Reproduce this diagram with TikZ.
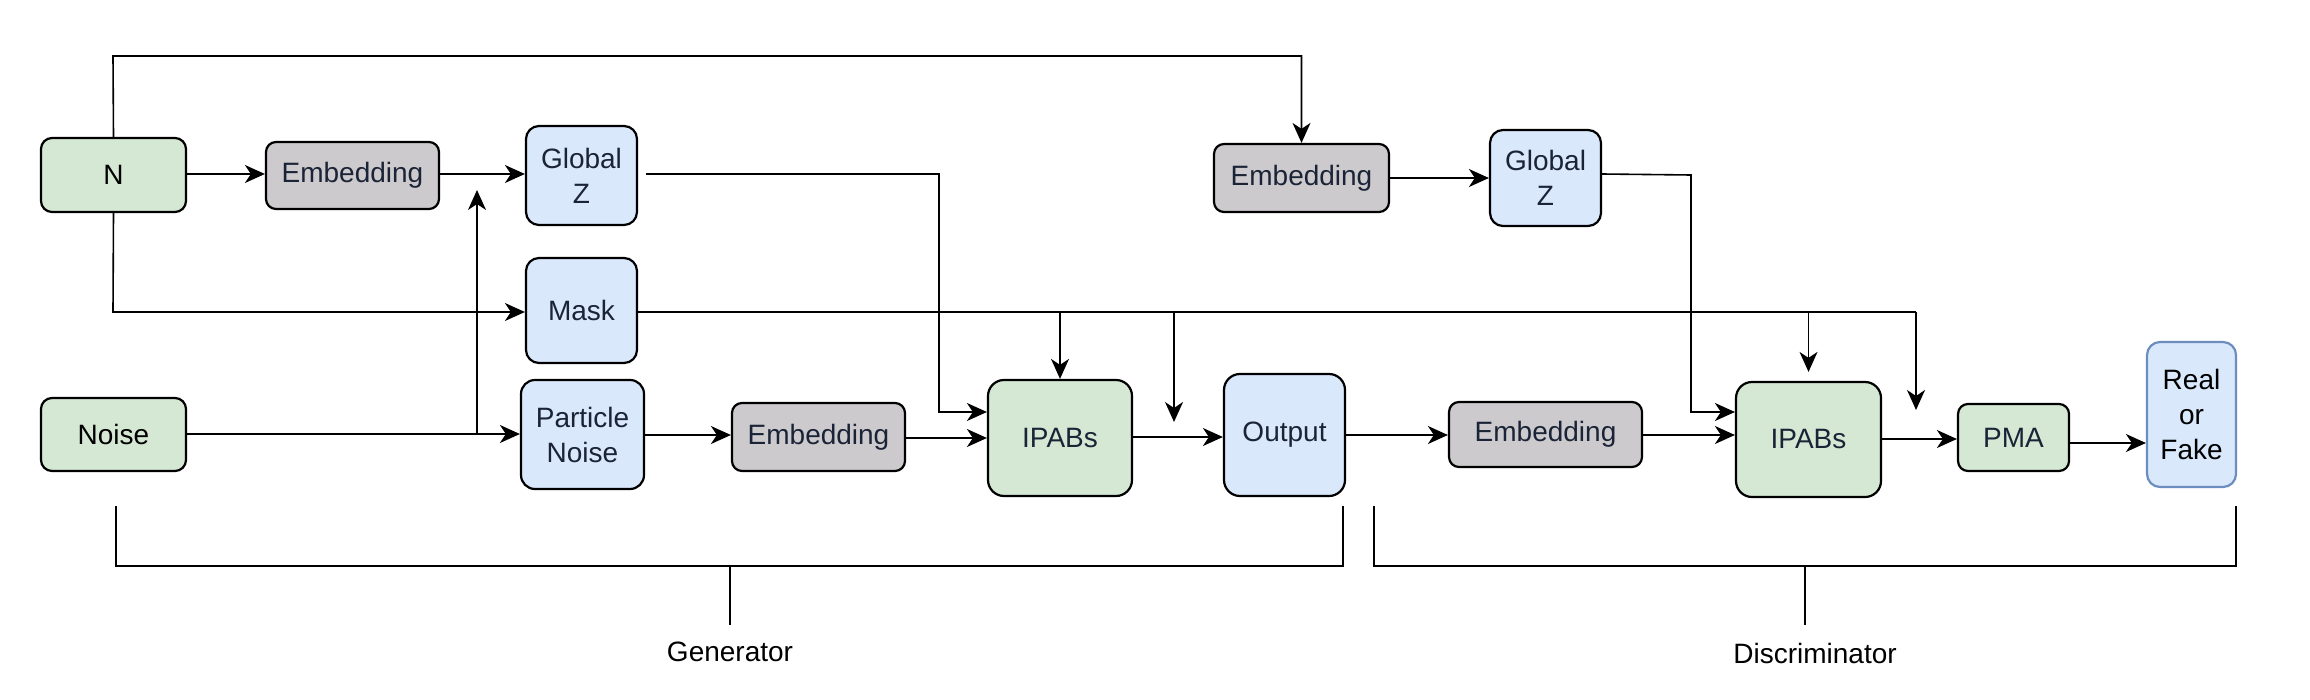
\documentclass[tikz,border=0pt]{standalone}
\usepackage{fontspec}
\setmainfont{Liberation Sans}
\usetikzlibrary{arrows.meta}
\definecolor{gfill}{HTML}{D5E8D4}
\definecolor{bfill}{HTML}{DAE8FC}
\definecolor{efill}{HTML}{CCCACD}
\definecolor{txt}{HTML}{1B2437}
\definecolor{rfline}{HTML}{6C8EBF}
\begin{document}
\begin{tikzpicture}[x=0.5pt,y=-0.5pt,
  >={Stealth[length=10pt,width=9pt,inset=3pt]},
  box/.style={draw, line width=1.1pt, inner sep=0pt, align=center,
    font=\fontsize{14}{17.5}\selectfont, text=txt, rounded corners=5pt},
  greenbox/.style={box, fill=gfill},
  bluebox/.style={box, fill=bfill},
  embbox/.style={box, fill=efill},
  conn/.style={line width=0.8pt},
  brk/.style={line width=0.8pt},
  lbl/.style={font=\fontsize{14}{17.5}\selectfont, text=black, inner sep=0pt}]
\useasboundingbox (0,0) rectangle (2310,700);

% nodes
\node[greenbox, text=black, minimum width=72.5pt, minimum height=37pt, rounded corners=5.5pt] (N) at (113.5,175) {N};
\node[embbox, minimum width=86.5pt, minimum height=33.5pt] (E1) at (352.5,175.5) {Embedding};
\node[bluebox, minimum width=55.5pt, minimum height=49.5pt, rounded corners=6.5pt] (G1) at (581.5,175.5) {Global\\Z};
\node[bluebox, minimum width=55.5pt, minimum height=52.5pt, rounded corners=6.5pt] (M) at (581.5,310.5) {Mask};
\node[greenbox, text=black, minimum width=72.5pt, minimum height=36.5pt, rounded corners=5.5pt] (NS) at (113.5,434.5) {Noise};
\node[bluebox, minimum width=61.5pt, minimum height=54.5pt, rounded corners=7pt] (PN) at (582.5,434.5) {Particle\\Noise};
\node[embbox, minimum width=86.5pt, minimum height=34pt] (E2) at (818.5,437) {Embedding};
\node[greenbox, minimum width=72pt, minimum height=58pt, rounded corners=8pt] (I1) at (1060,438) {IPABs};
\node[bluebox, minimum width=60.5pt, minimum height=61pt, rounded corners=8pt] (O) at (1284.5,435) {Output};
\node[embbox, minimum width=87.5pt, minimum height=34pt] (E3) at (1301.5,178) {Embedding};
\node[bluebox, minimum width=55.5pt, minimum height=48pt, rounded corners=6.5pt] (G2) at (1545.5,178) {Global\\Z};
\node[embbox, minimum width=96.5pt, minimum height=32.5pt] (E4) at (1545.5,434.5) {Embedding};
\node[greenbox, minimum width=72.5pt, minimum height=57.5pt, rounded corners=8pt] (I2) at (1808.5,439.5) {IPABs};
\node[greenbox, minimum width=55.5pt, minimum height=33.5pt] (P) at (2013.5,437.5) {PMA};
\node[bluebox, draw=rfline, text=black, minimum width=44.5pt, minimum height=72.5pt, rounded corners=6.5pt] (RF) at (2191.5,414.5) {Real\\or\\Fake};

% free-end coordinates
\coordinate (up1) at (477,190);
\coordinate (j1) at (477,434);
\coordinate (d1) at (1174,422);
\coordinate (d2) at (1916,410);
\coordinate (mend) at (1916,312);

% connectors
\draw[conn,->] (N.north) -- (113,56) -| (E3.north);
\draw[conn,->] (N.east |- 0,174) -- (E1.west |- 0,174);
\draw[conn,->] (E1.east |- 0,174) -- (G1.west |- 0,174);
\draw[conn,->] (N.south) -- (113,312) -- (M.west |- 0,312);
\draw[conn,->] (NS.east |- 0,434) -- (PN.west |- 0,434);
\draw[conn,->] (j1) -- (up1);
\draw[conn,->] (PN.east |- 0,435) -- (E2.west |- 0,435);
\draw[conn,->] ([xshift=4pt]G1.east |- 0,174) -- (939,174) -- (939,412) -- (I1.west |- 0,412);
\draw[conn,->] (E2.east |- 0,438) -- (I1.west |- 0,438);
\draw[conn] (M.east |- 0,312) -- (mend);
\draw[conn,->] (I1.north |- 0,312) -- (I1.north);
\draw[conn,->] (1174,312) -- (d1);
\draw[conn,->,shorten >=4.5pt] (I2.north |- 0,312) -- (I2.north);
\draw[conn,->] (mend) -- (d2);
\draw[conn,->] (I1.east |- 0,437) -- (O.west |- 0,437);
\draw[conn,->] (O.east |- 0,435) -- (E4.west |- 0,435);
\draw[conn,->] (E3.east |- 0,178) -- (G2.west |- 0,178);
\draw[conn,->] (G2.east |- 0,174) -- (1691,175) -- (1691,412) -- (I2.west |- 0,412);
\draw[conn,->] (E4.east |- 0,435) -- (I2.west |- 0,435);
\draw[conn,->] (I2.east |- 0,439) -- (P.west |- 0,439);
\draw[conn,->] (P.east |- 0,443) -- (RF.west |- 0,443);

% brackets
\node[lbl] (gen) at (730,652) {Generator};
\node[lbl] (dis) at (1815,653) {Discriminator};
\draw[brk] (116,506) -- (116,566) -- (1343,566) -- (1343,506);
\draw[brk] (730,566) -- (730,625);
\draw[brk] (1374,506) -- (1374,566) -- (2236,566) -- (2236,506);
\draw[brk] (1805,566) -- (1805,625);
\end{tikzpicture}
\end{document}
